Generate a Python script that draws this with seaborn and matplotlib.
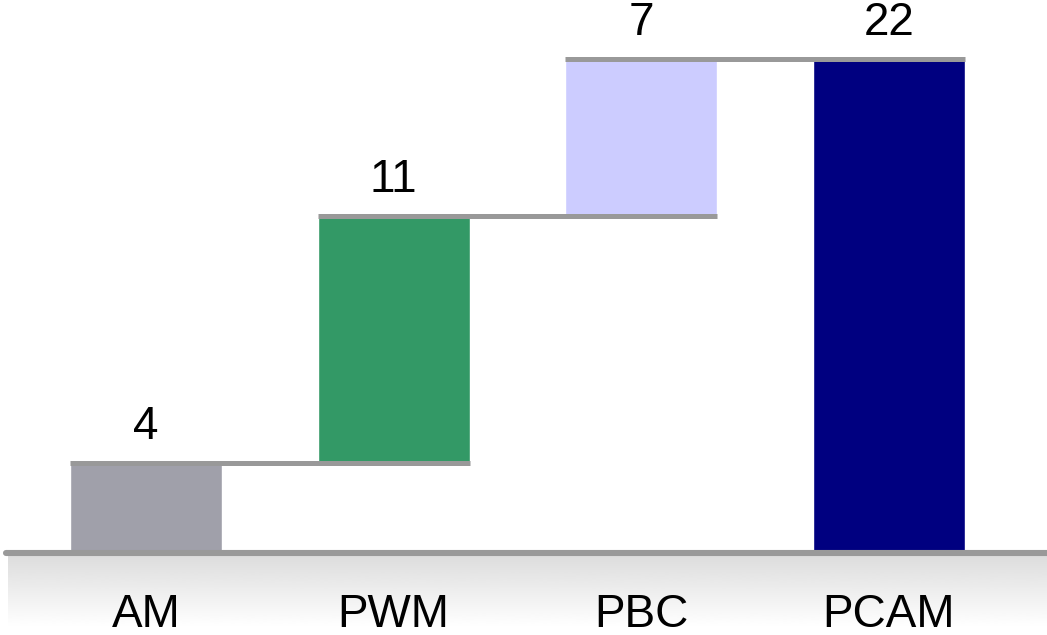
import numpy as np
import matplotlib
matplotlib.use("Agg")
import matplotlib.pyplot as plt
import seaborn as sns

# waterfall data
categories = ["AM", "PWM", "PBC", "PCAM"]
steps = [4, 11, 7, 22]
is_total = [False, False, False, True]
bar_colors = ["#a0a0aa", "#339966", "#ccccff", "#000080"]

# bar bottoms / tops of the waterfall
bottoms, tops = [], []
running = 0
for v, tot in zip(steps, is_total):
    if tot:
        bottoms.append(0)
        tops.append(v)
    else:
        bottoms.append(running)
        running += v
        tops.append(running)

sns.set_theme(style="white")
plt.rcParams["font.family"] = ["Liberation Sans", "DejaVu Sans"]

W, H = 1047, 635
fig = plt.figure(figsize=(W / 100, H / 100), dpi=100)

# grey gradient floor under the baseline
ax_bg = fig.add_axes([8 / W, 0, (W - 8) / W, (H - 553) / H])
t = np.linspace(0, 1, 256)
grad = np.where(t > 0.9, 1.0, 0.86 + 0.14 * t / 0.9).reshape(-1, 1)
ax_bg.imshow(grad, aspect="auto", cmap="gray", vmin=0, vmax=1, extent=[0, 1, 0, 1])
ax_bg.set_axis_off()

ax = fig.add_axes([6 / W, (H - 553) / H, (W - 6) / W, 553 / H])
ax.patch.set_alpha(0)

sns.barplot(x=categories, y=tops, hue=categories, palette=bar_colors,
            width=0.614, saturation=1, legend=False, ax=ax, zorder=2)

# move bars onto their waterfall bottoms
for patch, b, t in zip(ax.patches, bottoms, tops):
    patch.set_y(b)
    patch.set_height(t - b)

half = 0.614 / 2
# connector lines from each bar to the next
for i in range(len(categories) - 1):
    level = tops[i]
    ax.plot([i - half, i + 1 + half], [level, level], color="#999999",
            lw=3.6, solid_capstyle="butt", zorder=3)

# value labels
for i, (v, t) in enumerate(zip(steps, tops)):
    ax.annotate(str(v), xy=(i, t), xytext=(0, 10), textcoords="offset points",
                ha="center", va="bottom", fontsize=33, color="black")

ax.axhline(0, color="#999999", lw=4.4, zorder=4, clip_on=False)

ax.set_xlim(-0.565, 3.638)
ax.set_ylim(0, 553 / 22.45)
ax.set_yticks([])
ax.set_ylabel("")
ax.set_xlabel("")
ax.tick_params(axis="x", length=0, pad=29, labelsize=33, labelcolor="black")
sns.despine(ax=ax, left=True, bottom=True)

fig.savefig("out.png", dpi=100)
